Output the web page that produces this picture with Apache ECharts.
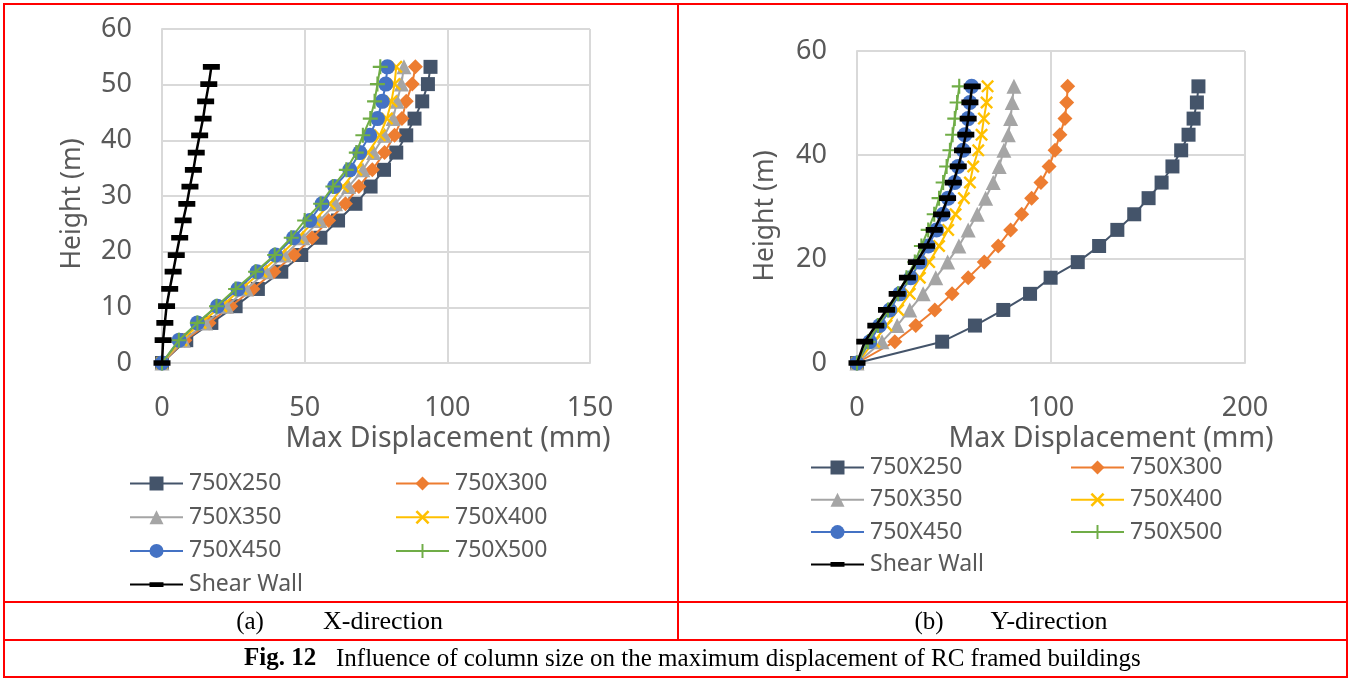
<!DOCTYPE html>
<html>
<head>
<meta charset="utf-8">
<script src="https://cdn.jsdelivr.net/npm/echarts@6/dist/echarts.min.js"></script>
<style>
html,body{margin:0;padding:0;background:#fff;}
#c{width:1352px;height:680px;}
</style>
</head>
<body>
<div id="c"></div>
<script>
// Heights (m) of the floor levels
var heights = [0, 4.1, 7.2, 10.2, 13.3, 16.4, 19.4, 22.5, 25.6, 28.6, 31.7, 34.7, 37.8, 40.9, 43.9, 47.0, 50.1, 53.2];

var seriesNames = ['750X250', '750X300', '750X350', '750X400', '750X450', '750X500', 'Shear Wall'];

// X-direction max displacement (mm), bottom to top
var x250 = [0, 8.5, 17.3, 25.8, 33.6, 41.8, 48.8, 55.5, 61.7, 67.8, 73.1, 77.8, 82.1, 85.6, 88.5, 91.2, 93.2, 94.1];
var x300 = [0, 8.0, 16.5, 24.1, 31.9, 39.2, 46.3, 52.6, 58.4, 64.3, 69.0, 73.7, 78.0, 81.5, 84.1, 85.6, 87.7, 88.8];
var x350 = [0, 7.5, 15.3, 22.6, 29.6, 36.6, 43.0, 49.4, 55.3, 60.8, 65.4, 70.4, 74.2, 78.0, 81.0, 82.4, 83.9, 84.8];
var x400 = [0, 6.8, 13.5, 20.8, 27.8, 34.8, 41.5, 47.7, 53.5, 58.8, 63.4, 68.1, 72.2, 76.3, 78.8, 80.4, 81.5, 82.1];
var x450 = [0, 6.0, 12.4, 19.4, 26.6, 33.3, 39.8, 46.1, 51.8, 56.1, 60.5, 65.8, 69.3, 72.8, 75.5, 77.2, 78.4, 79.0];
var x500 = [0, 5.9, 12.4, 19.1, 25.8, 32.8, 39.5, 45.3, 50.0, 55.6, 59.9, 64.6, 68.1, 70.4, 73.0, 74.5, 75.5, 76.5];
var xShear = [0, 0.4, 1.0, 1.6, 2.7, 3.9, 5.0, 6.2, 7.4, 8.7, 9.8, 11.0, 12.0, 13.2, 14.4, 15.3, 16.4, 17.3];

// Y-direction max displacement (mm), bottom to top
var y250 = [0, 43.9, 60.8, 75.4, 89.2, 99.8, 113.8, 124.8, 134.2, 142.9, 150.3, 157.0, 162.6, 167.1, 170.9, 173.5, 175.2, 176.0];
var y300 = [0, 19.5, 30.3, 40.1, 49.0, 57.3, 65.6, 72.8, 79.2, 84.9, 90.0, 94.8, 99.0, 102.1, 104.6, 107.2, 108.1, 108.6];
var y350 = [0, 12.9, 20.7, 27.2, 34.1, 40.6, 46.7, 52.5, 57.3, 62.0, 66.3, 70.2, 73.3, 75.7, 78.0, 79.2, 80.0, 80.9];
var y400 = [0, 8.8, 15.2, 21.2, 27.2, 32.4, 37.2, 42.3, 47.0, 50.8, 55.1, 58.2, 59.9, 62.5, 64.2, 65.4, 66.8, 67.3];
var y450 = [0, 6.6, 11.7, 16.9, 22.0, 27.7, 32.4, 36.7, 41.0, 44.4, 47.0, 50.4, 52.1, 54.7, 55.6, 57.3, 58.2, 59.1];
var y500 = [0, 5.7, 10.8, 16.0, 21.2, 25.5, 29.8, 33.2, 36.7, 39.8, 42.3, 44.4, 46.2, 47.9, 49.3, 50.4, 51.6, 52.7];
var yShear = [0, 4.0, 9.7, 15.2, 20.7, 26.0, 30.6, 35.8, 39.8, 43.6, 46.7, 49.6, 52.2, 54.4, 56.1, 57.3, 58.2, 59.4];

var xAxisTitle = 'Max Displacement (mm)';
var yAxisTitle = 'Height (m)';
var panelLabels = [['(a)', 'X-direction'], ['(b)', 'Y-direction']];
var captionBold = 'Fig. 12';
var captionText = 'Influence of column size on the maximum displacement of RC framed buildings';

var colors = ['#44546A', '#ED7D31', '#A5A5A5', '#FFC000', '#4472C4', '#70AD47', '#000000'];
var symbols = [
  'rect',
  'diamond',
  'triangle',
  'path://M1.3,0L5,3.7L8.7,0L10,1.3L6.3,5L10,8.7L8.7,10L5,6.3L1.3,10L0,8.7L3.7,5L0,1.3Z',
  'circle',
  'path://M4.3,0H5.7V4.3H10V5.7H5.7V10H4.3V5.7H0V4.3H4.3Z',
  'path://M0,0L0.01,0ZM0,5.3H16V10.7H0ZM16,16L16.01,16Z'
];
var symbolSizes = [14, 15, 15, 13, 15, 15, 17];

var FONT = '"Noto Sans", "DejaVu Sans", sans-serif';
var SERIF = '"Liberation Serif", "DejaVu Serif", serif';
var TXT = '#595959';

function pairs(xs) {
  return xs.map(function (v, i) { return [v, heights[i]]; });
}

var xData = [x250, x300, x350, x400, x450, x500, xShear];
var yData = [y250, y300, y350, y400, y450, y500, yShear];

var series = [];
[xData, yData].forEach(function (set, gi) {
  set.forEach(function (arr, si) {
    series.push({
      name: seriesNames[si],
      type: 'line',
      xAxisIndex: gi,
      yAxisIndex: gi,
      data: pairs(arr),
      symbol: symbols[si],
      symbolSize: symbolSizes[si],
      showAllSymbol: true,
      smooth: false,
      animation: false,
      lineStyle: { color: colors[si], width: si === 6 ? 2.5 : 2 },
      itemStyle: { color: colors[si] },
      emphasis: { disabled: true },
      z: 2 + si
    });
  });
});

function axisCommon() {
  return {
    axisLine: { show: true, lineStyle: { color: '#D9D9D9', width: 2 } },
    axisTick: { show: false },
    splitLine: { show: true, lineStyle: { color: '#D9D9D9', width: 2 } },
    axisLabel: { color: TXT, fontSize: 27, fontFamily: FONT }
  };
}

function xAx(gi, max, interval, shift) {
  var a = axisCommon();
  a.type = 'value'; a.gridIndex = gi; a.min = 0; a.max = max; a.interval = interval;
  a.axisLabel.margin = 32;
  a.name = xAxisTitle; a.nameLocation = 'middle'; a.nameGap = 61;
  a.nameTextStyle = { color: TXT, fontSize: 28.5, fontFamily: FONT, padding: [0, 0, 0, shift] };
  return a;
}
function yAx(gi, max, interval, gap, shiftDown) {
  var a = axisCommon();
  a.type = 'value'; a.gridIndex = gi; a.min = 0; a.max = max; a.interval = interval;
  a.axisLabel.margin = 30;
  a.name = yAxisTitle; a.nameLocation = 'middle'; a.nameGap = gap;
  a.nameTextStyle = { color: TXT, fontSize: 26.5, fontFamily: FONT, padding: [0, shiftDown, 0, 0] };
  return a;
}

function legend(names, left, top, gap) {
  return {
    data: names,
    orient: 'vertical',
    left: left, top: top,
    itemWidth: 53, itemHeight: 17.5, itemGap: gap,
    padding: 0,
    textStyle: { color: TXT, fontSize: 23, fontFamily: FONT, lineHeight: 22, padding: [0, 0, 0, 1] },
    selectedMode: false
  };
}

var option = {
  backgroundColor: '#ffffff',
  animation: false,
  grid: [
    { left: 162, top: 29, width: 428, height: 334, containLabel: false },
    { left: 857, top: 51, width: 388, height: 312, containLabel: false }
  ],
  xAxis: [xAx(0, 150, 50, 144), xAx(1, 200, 100, 120)],
  yAxis: [yAx(0, 60, 10, 76, 16), yAx(1, 60, 20, 78, 18)],
  legend: [
    legend(['750X250', '750X350', '750X450', 'Shear Wall'], 129, 472, 10.7),
    legend(['750X300', '750X400', '750X500'], 395, 472, 10.7),
    legend(['750X250', '750X350', '750X450', 'Shear Wall'], 810, 456, 9.3),
    legend(['750X300', '750X400', '750X500'], 1070, 456, 9.3)
  ],
  series: series,
  graphic: [
    { type: 'rect', silent: true, shape: { x: 4, y: 4, width: 1343, height: 673 }, style: { fill: 'none', stroke: '#FF0000', lineWidth: 2 } },
    { type: 'line', silent: true, shape: { x1: 678, y1: 4, x2: 678, y2: 640 }, style: { stroke: '#FF0000', lineWidth: 2 } },
    { type: 'line', silent: true, shape: { x1: 4, y1: 602, x2: 1347, y2: 602 }, style: { stroke: '#FF0000', lineWidth: 2 } },
    { type: 'line', silent: true, shape: { x1: 4, y1: 640, x2: 1347, y2: 640 }, style: { stroke: '#FF0000', lineWidth: 2 } },
    { type: 'text', silent: true, x: 250, y: 622, style: { text: panelLabels[0][0], font: '25px ' + SERIF, fill: '#000', align: 'center', verticalAlign: 'middle' } },
    { type: 'text', silent: true, x: 383, y: 622, style: { text: panelLabels[0][1], font: '26px ' + SERIF, fill: '#000', align: 'center', verticalAlign: 'middle' } },
    { type: 'text', silent: true, x: 929, y: 622, style: { text: panelLabels[1][0], font: '25px ' + SERIF, fill: '#000', align: 'center', verticalAlign: 'middle' } },
    { type: 'text', silent: true, x: 1049, y: 622, style: { text: panelLabels[1][1], font: '26px ' + SERIF, fill: '#000', align: 'center', verticalAlign: 'middle' } },
    { type: 'text', silent: true, x: 244, y: 659, style: { text: captionBold, font: 'bold 25px ' + SERIF, fill: '#000', align: 'left', verticalAlign: 'middle' } },
    { type: 'text', silent: true, x: 336, y: 659, style: { text: captionText, font: '25px ' + SERIF, fill: '#000', align: 'left', verticalAlign: 'middle' } }
  ]
};

var chart = echarts.init(document.getElementById('c'), null, { renderer: 'canvas' });
chart.setOption(option);
</script>
</body>
</html>
